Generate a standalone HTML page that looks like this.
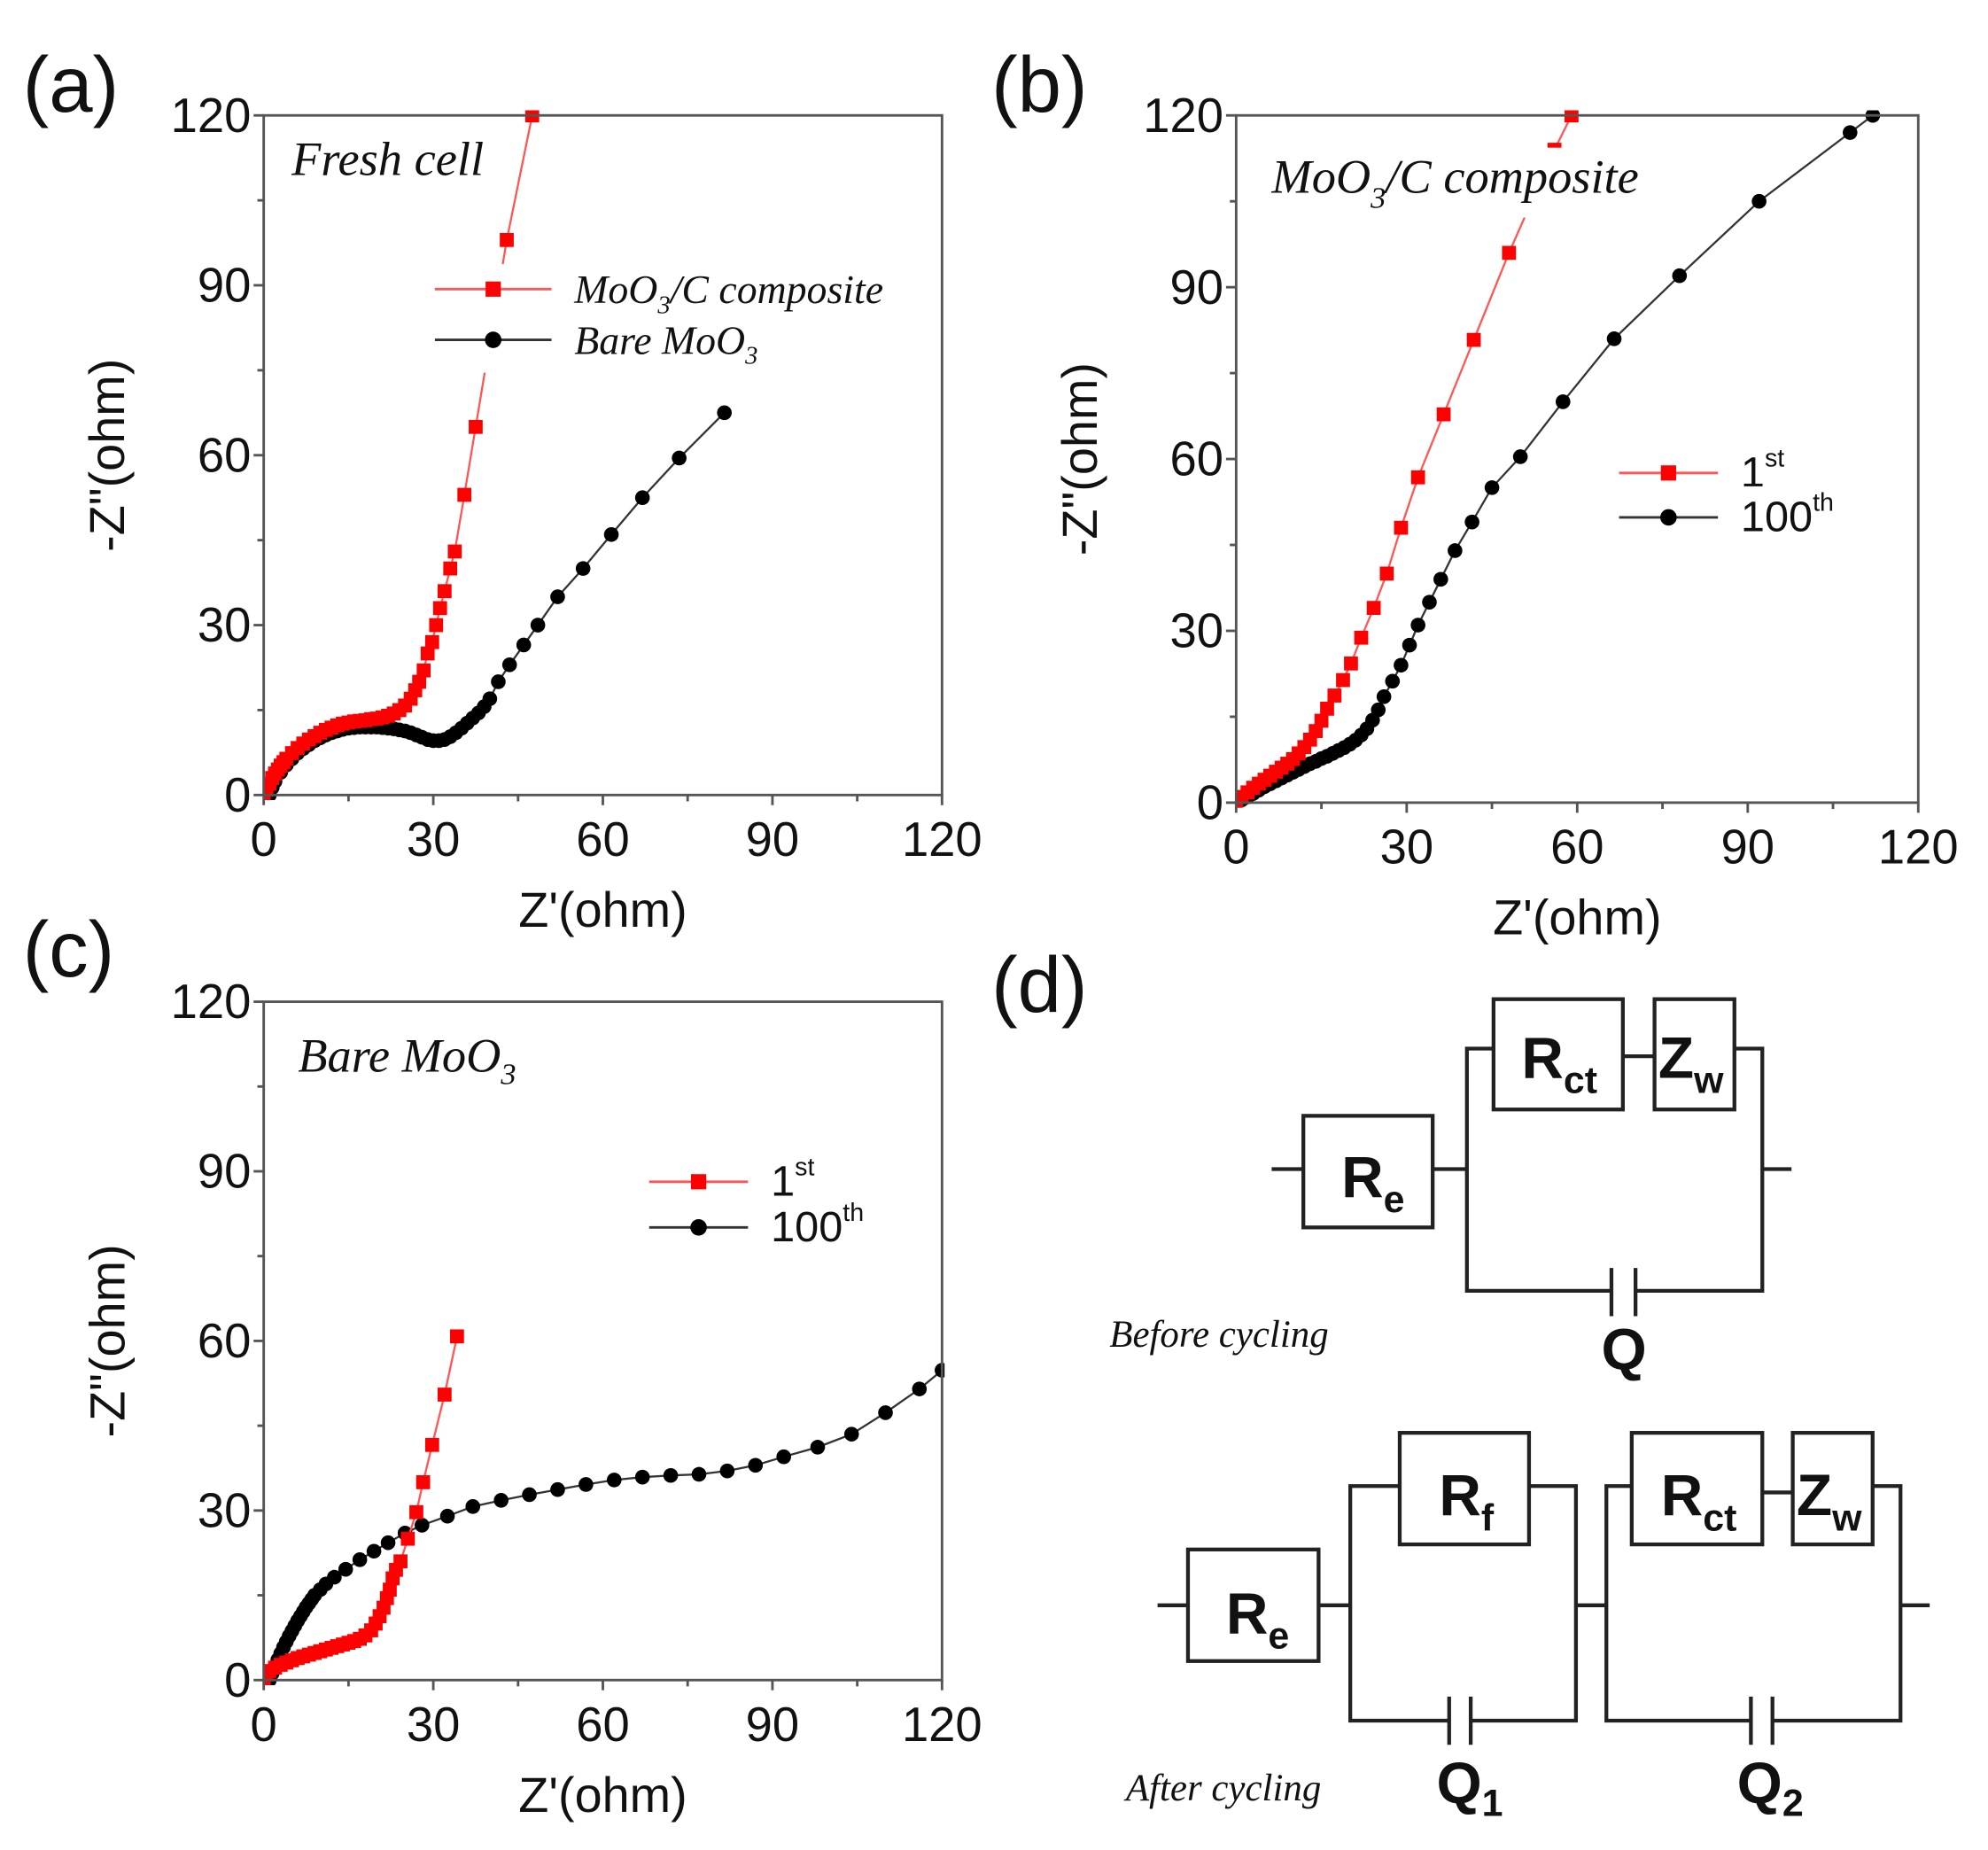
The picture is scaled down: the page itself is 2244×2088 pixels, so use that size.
<!DOCTYPE html>
<html><head><meta charset="utf-8"><style>
html,body{margin:0;padding:0;background:#fff}
svg{display:block}
.tk{font-family:"Liberation Sans",sans-serif;font-size:38px;fill:#111}
.ttl{font-family:"Liberation Sans",sans-serif;font-size:39px;fill:#111}
.pl{font-family:"Liberation Sans",sans-serif;font-size:62px;fill:#111}
.it{font-family:"Liberation Serif",serif;font-style:italic;fill:#111}
.lg{font-family:"Liberation Sans",sans-serif;font-size:34px;fill:#111}
.cb{font-family:"Liberation Sans",sans-serif;font-weight:bold;font-size:46px;fill:#111}
</style></head><body>
<svg id="fig" width="2244" height="2088" viewBox="0 0 1568 1459" xmlns="http://www.w3.org/2000/svg">
<g id="plots"></g>
<text class="pl" x="18" y="88">(a)</text>
<text class="pl" x="782" y="88">(b)</text>
<text class="pl" x="18" y="770">(c)</text>
<text class="pl" x="782" y="798">(d)</text>

<g stroke="#222" stroke-width="3" fill="none">
<line x1="1003" y1="922" x2="1028" y2="922"/>
<rect x="1028" y="880" width="102" height="88"/>
<line x1="1130" y1="922" x2="1157" y2="922"/>
<polyline points="1178,827 1157,827 1157,1018 1271,1018"/>
<line x1="1271" y1="1000" x2="1271" y2="1038"/><line x1="1290" y1="1000" x2="1290" y2="1038"/>
<polyline points="1290,1018 1390,1018 1390,827 1368,827"/>
<rect x="1178" y="788" width="102" height="87"/>
<line x1="1280" y1="833" x2="1305" y2="833"/>
<rect x="1305" y="788" width="63" height="87"/>
<line x1="1390" y1="922" x2="1413" y2="922"/>
</g>
<text class="cb" x="1058" y="944">R<tspan font-size="30" dy="12">e</tspan></text>
<text class="cb" x="1200" y="850">R<tspan font-size="30" dy="12">ct</tspan></text>
<text class="cb" x="1308" y="850">Z<tspan font-size="30" dy="12">w</tspan></text>
<text class="cb" x="1263" y="1080">Q</text>
<text class="it" font-size="30" x="875" y="1062">Before cycling</text>

<g stroke="#222" stroke-width="3" fill="none">
<line x1="913" y1="1266" x2="937" y2="1266"/>
<rect x="937" y="1222" width="103" height="88"/>
<line x1="1040" y1="1266" x2="1065" y2="1266"/>
<polyline points="1104,1172 1065,1172 1065,1357 1143,1357"/>
<line x1="1143" y1="1338" x2="1143" y2="1376"/><line x1="1160" y1="1338" x2="1160" y2="1376"/>
<polyline points="1160,1357 1243,1357 1243,1172 1206,1172"/>
<rect x="1104" y="1130" width="102" height="88"/>
<line x1="1243" y1="1266" x2="1267" y2="1266"/>
<polyline points="1287,1172 1267,1172 1267,1357 1381,1357"/>
<line x1="1381" y1="1338" x2="1381" y2="1376"/><line x1="1398" y1="1338" x2="1398" y2="1376"/>
<polyline points="1398,1357 1499,1357 1499,1172 1477,1172"/>
<rect x="1287" y="1130" width="103" height="88"/>
<line x1="1390" y1="1177" x2="1414" y2="1177"/>
<rect x="1414" y="1130" width="63" height="88"/>
<line x1="1499" y1="1266" x2="1522" y2="1266"/>
</g>
<text class="cb" x="967" y="1288">R<tspan font-size="30" dy="12">e</tspan></text>
<text class="cb" x="1135" y="1195">R<tspan font-size="30" dy="12">f</tspan></text>
<text class="cb" x="1310" y="1195">R<tspan font-size="30" dy="12">ct</tspan></text>
<text class="cb" x="1417" y="1195">Z<tspan font-size="30" dy="12">w</tspan></text>
<text class="cb" x="1133" y="1422">Q<tspan font-size="30" dy="10">1</tspan></text>
<text class="cb" x="1370" y="1422">Q<tspan font-size="30" dy="10">2</tspan></text>
<text class="it" font-size="30" x="888" y="1420">After cycling</text>
</svg>
<script>
const ticks=[0,30,60,90,120];
const tickLabels=["0","30","60","90","120"];
const aRedX=[0,0.5,1,1.5,2,2.5,3,3.5,4,5,6,7,8,9,10,11,12,13,14,15,16,17,18,19,20,21,22,23,24,25,26,26.8,27.5,28.3,29,29.8,30.5,31.2,32,33,33.8,35.5,37.5,43,47.5];
const aRedY=[0,1,2,3,3.8,4.5,5.2,5.8,6.4,7.4,8.3,9.1,9.8,10.4,11,11.5,11.9,12.3,12.6,12.8,13,13.1,13.2,13.4,13.5,13.7,14,14.4,15,15.8,17,18.5,20,22,25,27,30,33,36,40,43,53,65,98,120];
const aBlkX=[1,1.5,2,3,4,5,6,7,8,9,10,11,12,13,14,15,16,17,18,19,20,21,22,23,24,25,26,27,28,29,30,31,32,33,34,35,36,37,38,39,40,41.5,43.5,46,48.5,52,56.5,61.5,67,73.5,81.5];
const aBlkY=[0,1.3,2.4,4,5.3,6.4,7.4,8.2,8.9,9.6,10.1,10.6,11,11.3,11.6,11.8,11.9,12,12,12,12,11.9,11.8,11.7,11.5,11.3,11,10.6,10.2,9.8,9.6,9.6,9.8,10.3,11,11.8,12.7,13.6,14.5,15.6,17,20,23,26.5,30,35,40,46,52.5,59.5,67.5];
const bRedX=[0,1,2,3,4,5,6,7,8,9,10,11,12,13,14,15,16,17.3,18.8,20.2,22,24.2,26.5,29,32,36.5,41.8,48,56,59];
const bRedY=[0,1,1.8,2.6,3.3,4,4.7,5.4,6.1,6.8,7.6,8.6,9.7,11,12.5,14.3,16.4,18.7,21.4,24.3,28.8,34,40,48,56.8,67.8,80.8,96,114,120];
const bBlkX=[0,1,2,3,4,5,6,7,8,9,10,11,12,13,14,15,16,17,18,19,20,21,22,23,24,25,26,27.5,29,30.5,32,34,36,38.5,41.5,45,50,57.5,66.5,78,92,108,112];
const bBlkY=[0,0.5,1,1.6,2.2,2.8,3.3,3.8,4.3,4.8,5.3,5.8,6.3,6.8,7.2,7.7,8.1,8.6,9.1,9.6,10.2,10.9,11.8,12.9,14.4,16.2,18.5,21.2,24,27.5,31,35,39,44,49,55,60.4,70,81,92,105,117,120];
const cRedX=[0,0.5,1,2,3,4,5,6,7,8,9,10,11,12,13,14,15,16,17,18,19,19.8,20.5,21.2,21.8,22.3,22.8,23.4,24.2,25.5,27,28.2,29.8,32,34.2];
const cRedY=[0,1,1.6,2.2,2.7,3.1,3.5,3.9,4.2,4.5,4.8,5.1,5.4,5.7,6,6.3,6.6,6.9,7.3,7.9,8.8,10,11.3,12.8,14.5,16,18,19.5,21,25,29.7,35,41.6,50.5,60.8];
const cBlkX=[1,1.5,2,2.5,3,3.5,4,4.5,5,5.5,6,6.5,7,7.5,8,8.5,9,10,11,12.5,14.5,17,19.5,22,25,28,32.5,37,42,47,52,57,62,67,72,77,82,87,92,98,104,110,116,120];
const cBlkY=[0,1.2,2.4,3.6,4.7,5.8,6.8,7.8,8.7,9.6,10.5,11.3,12.1,12.9,13.6,14.3,15,16,17,18.2,19.6,21.3,22.8,24.3,26,27.4,29,30.7,31.8,32.8,33.7,34.6,35.4,35.9,36.2,36.4,37,38,39.5,41.2,43.5,47.3,51.5,54.8];

const NS="http://www.w3.org/2000/svg";
const root=document.getElementById('plots');
function mk(tag,attrs,parent){const e=document.createElementNS(NS,tag);for(const k in attrs)e.setAttribute(k,attrs[k]);(parent||root).appendChild(e);return e;}
function panel(id,x0,x1,y0,y1,series){
  const g=mk('g',{});
  
  
  const sx=v=>x0+(x1-x0)*v/120, sy=v=>y1-(y1-y0)*v/120;
  const clipId='clip'+id;
  const cp=mk('clipPath',{id:clipId},g);mk('rect',{x:x0,y:y0-4,width:x1-x0+2,height:y1-y0+8},cp);
  series.forEach(s=>{
    const sg=mk('g',{'clip-path':'url(#'+clipId+')'},g);
    
    
    const pts=s.x.map((v,i)=>sx(v)+','+sy(s.y[i])).join(' ');
    mk('polyline',{points:pts,fill:'none',stroke:s.line,'stroke-width':1.6},sg);
    s.x.forEach((v,i)=>{
      const m= s.shape==='sq'? mk('rect',{x:sx(v)-5.5,y:sy(s.y[i])-5.5,width:11,height:11,fill:s.fill},sg)
                             : mk('circle',{cx:sx(v),cy:sy(s.y[i]),r:5.8,fill:s.fill},sg);
      
      
    });
  });
  g._frame=[x0,x1,y0,y1];
  return g;
}
function finish(g){
  const [x0,x1,y0,y1]=g._frame;
  const sx=v=>x0+(x1-x0)*v/120, sy=v=>y1-(y1-y0)*v/120;
  const fr=mk('rect',{x:x0,y:y0,width:x1-x0,height:y1-y0,fill:'none',stroke:'#555','stroke-width':2},g);
  
  
  for(let v=0;v<=120;v+=15){
    const L=(v%30===0)?8:5;
    mk('line',{x1:sx(v),y1:y1,x2:sx(v),y2:y1+L,stroke:'#555','stroke-width':2},g);
    mk('line',{x1:x0,y1:sy(v),x2:x0-L,y2:sy(v),stroke:'#555','stroke-width':2},g);
  }
  ticks.forEach((v,i)=>{
    const t=mk('text',{class:'tk',x:sx(v),y:y1+48,'text-anchor':'middle'},g);t.textContent=tickLabels[i];
    
    
    const u=mk('text',{class:'tk',x:x0-10,y:sy(v)+13,'text-anchor':'end'},g);u.textContent=tickLabels[i];
    
    
  });
  const xt=mk('text',{class:'ttl',x:(x0+x1)/2,y:y1+104,'text-anchor':'middle'},g);xt.textContent="Z'(ohm)";
  
  
  const yx=x0-110, yc=(y0+y1)/2;
  const yt=mk('text',{class:'ttl',x:yx,y:yc,'text-anchor':'middle',transform:'rotate(-90 '+yx+' '+yc+')'},g);yt.textContent='-Z"(ohm)';
  
  
}
const red={line:'#ff5555',fill:'#ff0000',shape:'sq'}, blk={line:'#333',fill:'#000',shape:'ci'};
const ga=panel('a',208,743,91,627,[Object.assign({name:'bare',x:aBlkX,y:aBlkY},blk),Object.assign({name:'composite',x:aRedX,y:aRedY},red)]);
const gb=panel('b',975,1513,91,633,[Object.assign({name:'100th',x:bBlkX,y:bBlkY},blk),Object.assign({name:'1st',x:bRedX,y:bRedY},red)]);
const gc=panel('c',208,743,790,1325,[Object.assign({name:'100th',x:cBlkX,y:cBlkY},blk),Object.assign({name:'1st',x:cRedX,y:cRedY},red)]);
function whiteBehind(g,el,pad){
  const b=el.getBBox();
  const r=mk('rect',{x:b.x-pad,y:b.y-pad/2,width:b.width+2*pad,height:b.height+pad,fill:'#fff'},g);
  g.insertBefore(r,g.firstChild===el?el:el);
}
function legend(g,x1,x2,y,label,isRed,italic){
  const lg=mk('g',{},g);
  
  
  const ln=mk('line',{x1:x1,y1:y,x2:x2,y2:y,stroke:isRed?'#ff5555':'#333','stroke-width':2},lg);
  const mx=(x1+x2)/2;
  if(isRed) mk('rect',{x:mx-6,y:y-6,width:12,height:12,fill:'#f00'},lg); else mk('circle',{cx:mx,cy:y,r:6.5,fill:'#000'},lg);
  const t=mk('text',{x:x2+18,y:y+11},lg);
  t.setAttribute('class',italic?'it':'lg'); if(italic)t.setAttribute('font-size','32');
  t.innerHTML=label;
  const b=lg.getBBox();
  const r=mk('rect',{x:b.x-4,y:b.y-2,width:b.width+8,height:b.height+4,fill:'#fff'},lg);
  lg.insertBefore(r,ln);
}
legend(ga,343,435,228,'MoO<tspan font-size="20" dy="8">3</tspan><tspan dy="-8">/C composite</tspan>',true,true);
legend(ga,343,435,268,'Bare MoO<tspan font-size="20" dy="8">3</tspan>',false,true);
legend(gb,1277,1355,373,'1<tspan font-size="20" dy="-16">st</tspan>',true,false);
legend(gb,1277,1355,408,'100<tspan font-size="20" dy="-16">th</tspan>',false,false);
legend(gc,512,590,932,'1<tspan font-size="20" dy="-16">st</tspan>',true,false);
legend(gc,512,590,968,'100<tspan font-size="20" dy="-16">th</tspan>',false,false);
function title(g,x,y,html,name){const t=mk('text',{x:x,y:y,class:'it','font-size':'38'},g);t.innerHTML=html;
  
  
  whiteBehind(g,t,4);}
title(ga,230,138,'Fresh cell','panel-title-a');
title(gb,1003,152,'MoO<tspan font-size="24" dy="12">3</tspan><tspan dy="-12">/C composite</tspan>','panel-title-b');
title(gc,235,845,'Bare MoO<tspan font-size="24" dy="10">3</tspan>','panel-title-c');
finish(ga);finish(gb);finish(gc);
</script>
</body></html>
